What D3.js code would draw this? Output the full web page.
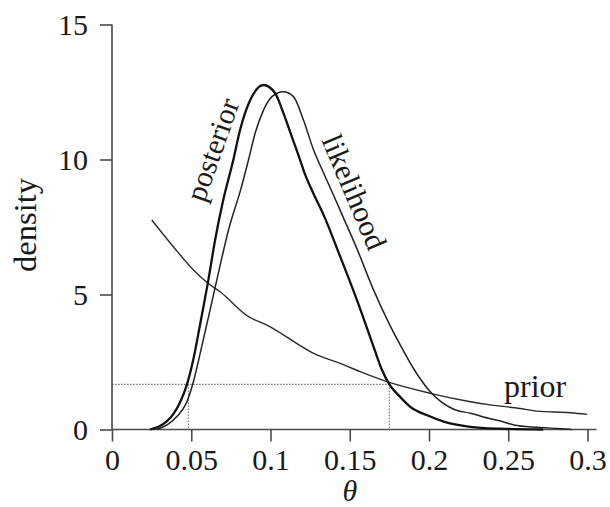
<!DOCTYPE html>
<html>
<head>
<meta charset="utf-8">
<script src="https://cdn.jsdelivr.net/npm/d3@7"></script>
<style>
  html, body { margin: 0; padding: 0; background: #fff; }
  svg { display: block; }
  svg text { font-family: "Liberation Serif", "Times New Roman", Times, "Nimbus Roman", serif; fill: #1a1a1a; }
</style>
</head>
<body>
<svg id="chart" width="610" height="507"></svg>
<script>
// Densities of theta: [theta, density] pairs
const posterior = [
  [0.024, 0.0], [0.030, 0.12], [0.0345, 0.30], [0.0390, 0.60], [0.0429, 1.00],
  [0.0472, 1.65], [0.0514, 2.62], [0.0556, 3.90], [0.0608, 5.54], [0.0650, 7.00],
  [0.0700, 8.45], [0.0766, 10.0], [0.0808, 11.09], [0.0872, 12.2], [0.0956, 12.76],
  [0.1030, 12.45], [0.1082, 11.71], [0.1135, 10.84], [0.1187, 9.98], [0.1208, 9.61],
  [0.1270, 8.75], [0.1335, 7.95], [0.1440, 6.40], [0.1545, 4.80], [0.1650, 3.07],
  [0.1700, 2.25], [0.1750, 1.67], [0.1819, 1.20], [0.1882, 0.84], [0.2000, 0.50],
  [0.2093, 0.29], [0.2260, 0.10], [0.2450, 0.03], [0.2720, 0.0]
];
const likelihood = [
  [0.0282, 0.0], [0.0350, 0.18], [0.0408, 0.47], [0.0472, 1.02], [0.0514, 1.78],
  [0.0566, 3.07], [0.0619, 4.43], [0.0671, 5.79], [0.0735, 7.39], [0.0815, 8.95],
  [0.0861, 9.98], [0.0903, 10.97], [0.0956, 11.83], [0.1009, 12.33], [0.1082, 12.51],
  [0.1145, 12.33], [0.1208, 11.46], [0.1272, 10.35], [0.1335, 9.50], [0.1400, 8.65],
  [0.1461, 7.83], [0.1545, 6.70], [0.1650, 5.17], [0.1750, 3.90], [0.1840, 2.90],
  [0.1903, 2.25], [0.2008, 1.40], [0.2156, 0.75], [0.2261, 0.60], [0.2387, 0.40],
  [0.2471, 0.28], [0.2535, 0.17], [0.2682, 0.08], [0.2830, 0.03], [0.2900, 0.0]
];
const prior = [
  [0.0251, 7.76], [0.0387, 6.77], [0.0514, 5.91], [0.0608, 5.41], [0.0682, 5.10],
  [0.0861, 4.18], [0.0977, 3.87], [0.1293, 2.76], [0.1440, 2.45], [0.1566, 2.14],
  [0.1735, 1.77], [0.2008, 1.34], [0.2261, 1.03], [0.2387, 0.91], [0.2577, 0.78],
  [0.2682, 0.68], [0.2893, 0.62], [0.2998, 0.56]
];
// 95% highest posterior density interval and its density level
const hpdInterval = [0.0482, 0.175];
const hpdLevel = 1.67;

const xTicks = [0, 0.05, 0.1, 0.15, 0.2, 0.25, 0.3];
const yTicks = [0, 5, 10, 15];

const svg = d3.select("#chart");
const x = d3.scaleLinear().domain([0, 0.3]).range([112, 587.5]);
const y = d3.scaleLinear().domain([0, 15]).range([429.5, 24.5]);

const serif = '"Liberation Serif", "Times New Roman", Times, "Nimbus Roman", serif';
const fontSize = 30;
const axisColor = "#4a4a4a";

// HPD guide lines (dotted)
const guides = svg.append("g")
  .attr("fill", "none")
  .attr("stroke", "#777")
  .attr("stroke-width", 1.1)
  .attr("stroke-dasharray", "1.6,1.4");
guides.append("line")
  .attr("x1", x(0)).attr("x2", x(hpdInterval[1]))
  .attr("y1", y(hpdLevel)).attr("y2", y(hpdLevel));
hpdInterval.forEach(t => {
  guides.append("line")
    .attr("x1", x(t)).attr("x2", x(t))
    .attr("y1", y(hpdLevel)).attr("y2", y(0));
});

// Axes
const yAxis = d3.axisLeft(y).tickValues(yTicks).tickSize(12).tickPadding(12)
  .tickFormat(d3.format("d"));
const gy = svg.append("g").attr("transform", `translate(${x(0)},0)`).call(yAxis);
gy.select(".domain").remove();

const xAxis = d3.axisBottom(x).tickValues(xTicks).tickSize(12).tickPadding(7)
  .tickFormat(d => d === 0 ? "0" : String(+d.toFixed(2)));
const gx = svg.append("g").attr("transform", `translate(0,${y(0)})`).call(xAxis);
gx.select(".domain").remove();

[gx, gy].forEach(g => {
  g.attr("font-family", null).attr("font-size", null);
  g.selectAll(".tick line").attr("stroke", axisColor).attr("stroke-width", 1.6);
  g.selectAll(".tick text")
    .style("font-family", serif)
    .style("font-size", fontSize + "px")
    .attr("fill", "#1a1a1a");
});
gy.selectAll(".tick text").attr("dy", "0.34em");

// Axis lines
svg.append("line")
  .attr("x1", x(0)).attr("x2", x(0))
  .attr("y1", y(15)).attr("y2", y(0))
  .attr("stroke", axisColor).attr("stroke-width", 1.6);
svg.append("line")
  .attr("x1", x(0)).attr("x2", x(0.3) + 9)
  .attr("y1", y(0)).attr("y2", y(0))
  .attr("stroke", axisColor).attr("stroke-width", 1.6);

// Density curves
const line = d3.line()
  .x(d => x(d[0]))
  .y(d => y(d[1]))
  .curve(d3.curveMonotoneX);

svg.append("path").datum(prior)
  .attr("d", line).attr("fill", "none")
  .attr("stroke", "#2a2a2a").attr("stroke-width", 1.4);
svg.append("path").datum(likelihood)
  .attr("d", line).attr("fill", "none")
  .attr("stroke", "#222").attr("stroke-width", 1.5);
svg.append("path").datum(posterior)
  .attr("d", line).attr("fill", "none")
  .attr("stroke", "#111").attr("stroke-width", 2.3);

// Labels
function label(sel, size) {
  return sel.style("font-family", serif).style("font-size", (size || fontSize) + "px");
}
label(svg.append("text"))
  .attr("transform", "translate(222,153) rotate(-70.5)")
  .attr("text-anchor", "middle")
  .text("posterior");
label(svg.append("text"))
  .attr("transform", "translate(345,196) rotate(67)")
  .attr("text-anchor", "middle")
  .text("likelihood");
label(svg.append("text"), 32)
  .attr("x", 504).attr("y", 397)
  .text("prior");

// Axis titles
label(svg.append("text"))
  .attr("x", x(0.15)).attr("y", 501)
  .attr("text-anchor", "middle")
  .style("font-style", "italic")
  .text("θ");
label(svg.append("text"), 32.5)
  .attr("transform", "translate(36,225) rotate(-90)")
  .attr("text-anchor", "middle")
  .text("density");
</script>
</body>
</html>
